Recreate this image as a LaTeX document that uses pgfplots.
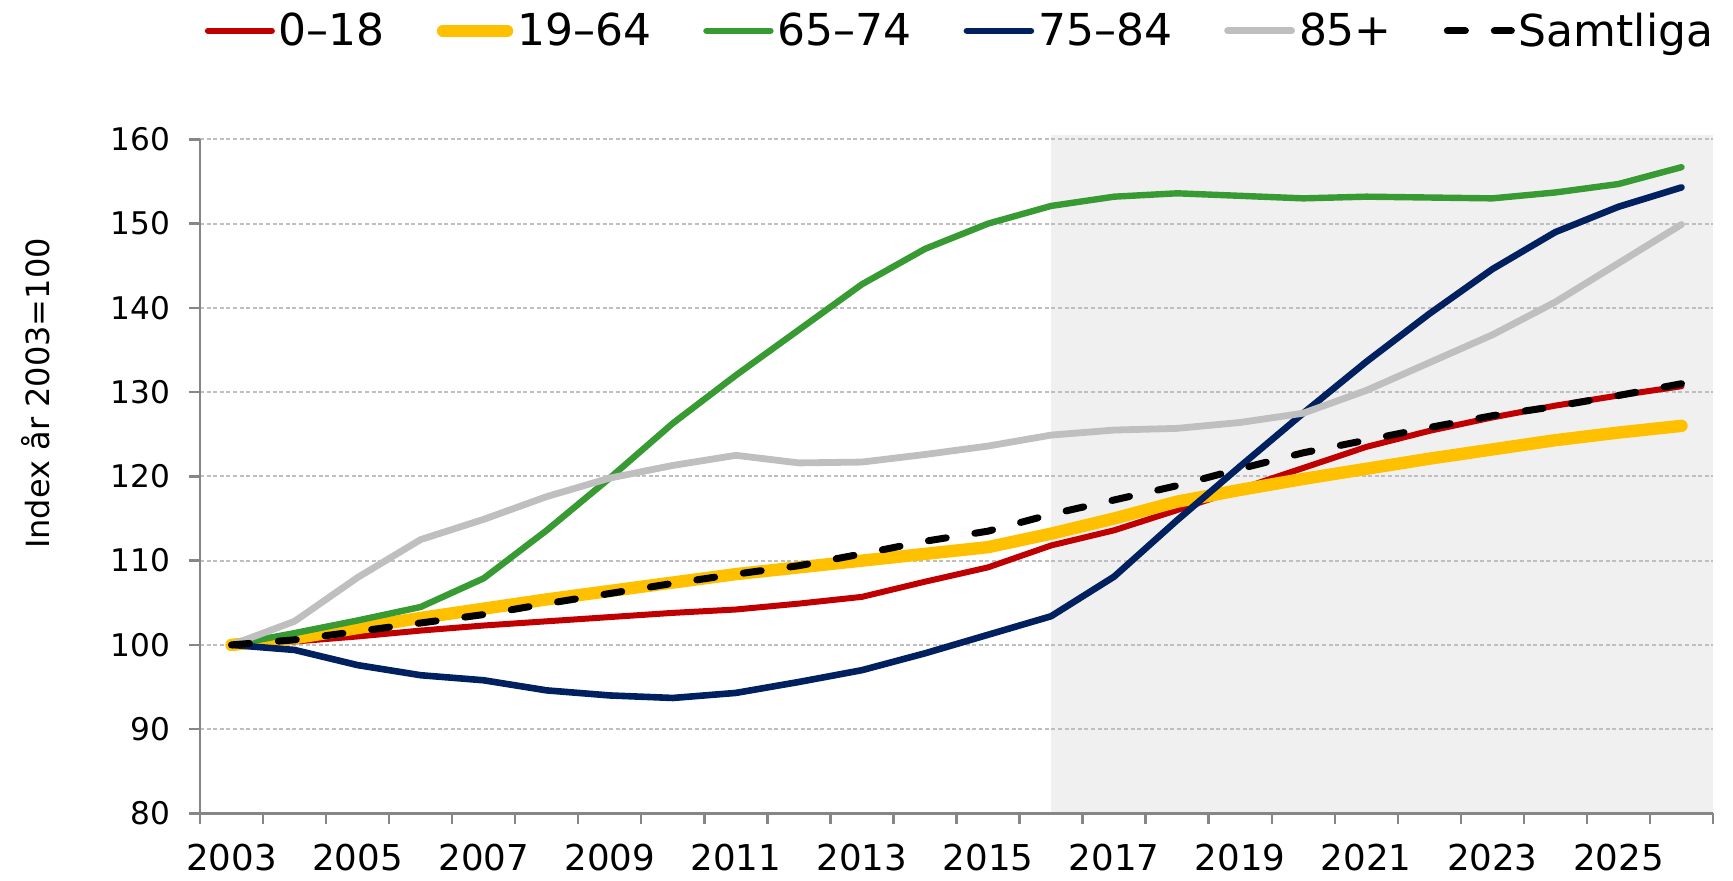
\documentclass[border=0pt]{standalone}
\usepackage{fontspec}
\setmainfont{DejaVu Sans}
\usepackage{pgfplots}
\usepackage{pgfplotstable}
\pgfplotsset{compat=1.18}
\definecolor{cRed}{HTML}{C00000}
\definecolor{cYel}{HTML}{FFC000}
\definecolor{cGrn}{HTML}{379A33}
\definecolor{cBlu}{HTML}{002060}
\definecolor{cGry}{HTML}{BFBFBF}
\definecolor{axisgray}{HTML}{868686}
\definecolor{gridgray}{HTML}{BFBFBF}
\definecolor{shadegray}{HTML}{F0F0F0}

\pgfplotstableread{
x r y g b gr s
0 100 100 100 100 100 100
1 100.4 100.8 101.4 99.4 102.8 100.6
2 101.0 102.0 102.9 97.6 108.0 101.6
3 101.7 103.2 104.5 96.4 112.5 102.6
4 102.3 104.3 107.9 95.8 114.9 103.6
5 102.8 105.4 113.6 94.6 117.6 104.9
6 103.3 106.4 119.8 94.0 119.8 106.1
7 103.8 107.4 126.3 93.7 121.3 107.3
8 104.2 108.4 132.0 94.3 122.5 108.4
9 104.9 109.2 137.4 95.6 121.6 109.4
10 105.7 110.0 142.8 97.0 121.7 110.8
11 107.5 110.8 147.0 99.0 122.6 112.3
12 109.2 111.6 150.0 101.2 123.6 113.5
13 111.8 113.2 152.1 103.4 124.9 115.5
14 113.6 115.0 153.2 108.1 125.5 117.2
15 116.0 117.0 153.6 114.8 125.7 118.9
16 118.5 118.4 153.3 121.2 126.4 120.9
17 121.0 119.7 153.0 127.5 127.5 122.8
18 123.5 120.9 153.2 133.6 130.2 124.3
19 125.4 122.1 153.1 139.3 133.5 125.8
20 127.0 123.2 153.0 144.6 136.8 127.2
21 128.4 124.3 153.7 149.0 140.7 128.3
22 129.6 125.2 154.7 152.0 145.3 129.6
23 130.7 126.0 156.7 154.3 149.9 131.0
}\data

\begin{document}
\begin{tikzpicture}
\begin{axis}[
  set layers,
  clip=false,
  scale only axis, width=756.5pt, height=337pt,
  at={(0pt,0pt)}, anchor=south west,
  xmin=-0.5, xmax=23.5, ymin=80, ymax=160,
  axis x line=bottom, axis y line=left,
  axis line style={-, draw=axisgray, line width=1.3pt},
  tick align=outside,
  major tick length=5.5pt,
  tick style={draw=axisgray, line width=1.2pt},
  xtick={-0.5,0.5,...,23.5}, xticklabels={},
  extra x ticks={0,2,...,22},
  extra x tick labels={2003,2005,2007,2009,2011,2013,2015,2017,2019,2021,2023,2025},
  extra x tick style={major tick length=0pt},
  ytick={80,90,...,160},
  ymajorgrids,
  grid style={draw=gridgray, line width=1pt, dash pattern=on 2pt off 1.3pt},
  /pgf/number format/assume math mode=true,
  xticklabel style={font=\fontsize{17.8}{20}\selectfont, yshift=-12pt},
  yticklabel style={font=\fontsize{15.6}{18}\selectfont, xshift=-6pt},
  ylabel={Index år 2003=100},
  ylabel style={at={(axis description cs:-0.1084,0.623)}, anchor=center, font=\fontsize{16}{19}\selectfont},
  legend columns=6,
  legend style={draw=none, fill=none, at={(axis description cs:0.503,1.161)}, anchor=center,
    font=\fontsize{22}{26}\selectfont,
    /tikz/every even column/.append style={column sep=24pt}},
  legend image code/.code={\draw[#1] (0pt,0pt) -- (32pt,0pt);},
  every axis plot/.append style={line cap=round, line join=round},
]
\addplot[draw=none, fill=shadegray, forget plot, on layer=axis background] coordinates {(13,80) (13,160.5) (23.5,160.5) (23.5,80)} -- cycle;
\addplot[cRed, line width=3pt] table[x=x,y=r]{\data};
\addlegendentry{0–18}
\addplot[cYel, line width=6.2pt] table[x=x,y=y]{\data};
\addlegendentry{19–64}
\addplot[cGrn, line width=3.2pt] table[x=x,y=g]{\data};
\addlegendentry{65–74}
\addplot[cBlu, line width=3.3pt] table[x=x,y=b]{\data};
\addlegendentry{75–84}
\addplot[cGry, line width=3.4pt] table[x=x,y=gr]{\data};
\addlegendentry{85+}
\addplot[black, line width=3.5pt, dash pattern=on 9pt off 14.5pt] table[x=x,y=s]{\data};
\addlegendentry{Samtliga}
\end{axis}
\pgfresetboundingbox
\useasboundingbox (-100pt,-33.8pt) rectangle (766.5pt,406.7pt);
\end{tikzpicture}
\end{document}
